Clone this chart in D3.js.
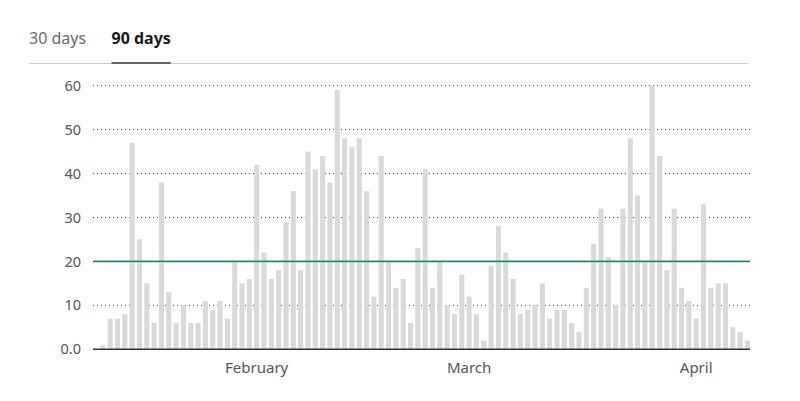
<!DOCTYPE html>
<html>
<head>
<meta charset="utf-8">
<script src="https://cdn.jsdelivr.net/npm/d3@7"></script>
<style>
  body { margin: 0; background: #fff; }
  svg text { font-family: "Noto Sans", sans-serif; }
</style>
</head>
<body>
<svg id="chart" width="800" height="401"></svg>
<script>
// daily counts, 10 Jan -> 8 Apr 2024
var startDay = "2024-01-10";
var counts = [0, 1, 7, 7, 8, 47, 25, 15, 6, 38, 13, 6, 10, 6, 6, 11, 9, 11, 7, 20, 15, 16, 42,
  22, 16, 18, 29, 36, 18, 45, 41, 44, 38, 59, 48, 46, 48, 36, 12, 44, 20, 14, 16, 6, 23,
  41, 14, 20, 10, 8, 17, 12, 8, 2, 19, 28, 22, 16, 8, 9, 10, 15, 7, 9, 9, 6, 4,
  14, 24, 32, 21, 10, 32, 48, 35, 20, 60, 44, 18, 32, 14, 11, 7, 33, 14, 15, 15, 5, 4, 2];
var yTicks = [0, 10, 20, 30, 40, 50, 60];
var yTickLabels = ["0.0", "10", "20", "30", "40", "50", "60"];
var monthTicks = ["2024-02-01", "2024-03-01", "2024-04-01"];
var monthLabels = ["February", "March", "April"];
var target = 20;
var tabs = ["30 days", "90 days"];

var parse = d3.timeParse("%Y-%m-%d");
var fmt = d3.timeFormat("%Y-%m-%d");
var days = d3.timeDay.range(parse(startDay), d3.timeDay.offset(parse(startDay), counts.length)).map(fmt);

var svg = d3.select("#chart");

// tabs
svg.append("line")
  .attr("x1", 29).attr("x2", 748).attr("y1", 63.5).attr("y2", 63.5)
  .attr("stroke", "#cfcfcf").attr("stroke-width", 1);
svg.append("text").attr("x", 29).attr("y", 44)
  .attr("font-size", 16).attr("fill", "#6b6b6b").text(tabs[0]);
var t2 = svg.append("text").attr("x", 111.5).attr("y", 44)
  .attr("font-size", 16).attr("font-weight", "bold").attr("fill", "#1a1a1a").text(tabs[1]);
var w2 = t2.node().getComputedTextLength();
svg.append("rect").attr("x", 111.5).attr("y", 62).attr("width", w2).attr("height", 2)
  .attr("fill", "#666");

var x = d3.scaleBand().domain(days).range([93, 750]).paddingInner(0.31).paddingOuter(0);
var y = d3.scaleLinear().domain([0, 60]).range([349.3, 85.7]);

// grid
svg.append("g").selectAll("line")
  .data(yTicks.filter(function(d) { return d > 0; }))
  .enter().append("line")
  .attr("x1", 93).attr("x2", 750)
  .attr("y1", function(d) { return y(d); }).attr("y2", function(d) { return y(d); })
  .attr("stroke", "#444").attr("stroke-width", 1).attr("stroke-dasharray", "1,3");

svg.append("g").selectAll("text")
  .data(yTicks)
  .enter().append("text")
  .attr("x", 81).attr("y", function(d) { return y(d); })
  .attr("dy", "0.35em").attr("text-anchor", "end")
  .attr("font-size", 14.5).attr("fill", "#555")
  .text(function(d, i) { return yTickLabels[i]; });

// bars
svg.append("g").selectAll("rect")
  .data(counts)
  .enter().append("rect")
  .attr("x", function(d, i) { return x(days[i]); })
  .attr("width", x.bandwidth())
  .attr("y", function(d) { return y(d); })
  .attr("height", function(d) { return y(0) - y(d); })
  .attr("fill", "#d9d9d9");

// target line
svg.append("line")
  .attr("x1", 93).attr("x2", 750).attr("y1", y(target)).attr("y2", y(target))
  .attr("stroke", "#9fd8bf").attr("stroke-width", 3).attr("opacity", 0.6);
svg.append("line")
  .attr("x1", 93).attr("x2", 750).attr("y1", y(target)).attr("y2", y(target))
  .attr("stroke", "#16805a").attr("stroke-width", 1.3);

// baseline
svg.append("line")
  .attr("x1", 93).attr("x2", 750).attr("y1", y(0)).attr("y2", y(0))
  .attr("stroke", "#333").attr("stroke-width", 1.5);

// month labels
svg.append("g").selectAll("text")
  .data(monthTicks)
  .enter().append("text")
  .attr("x", function(d) { return x(d) + x.bandwidth() / 2; })
  .attr("y", 373)
  .attr("text-anchor", "middle")
  .attr("font-size", 15).attr("fill", "#555")
  .text(function(d, i) { return monthLabels[i]; });
</script>
</body>
</html>
